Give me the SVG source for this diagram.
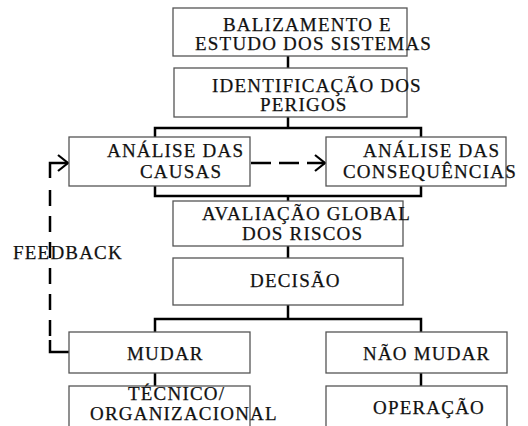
<svg xmlns="http://www.w3.org/2000/svg" width="528" height="426" viewBox="0 0 528 426">
<defs>
<style>
.box{fill:#fff;stroke:#555;stroke-width:1.3}
.t{font-family:'Liberation Serif','Times New Roman',serif;font-size:19px;letter-spacing:1.2px;fill:#111;stroke:#111;stroke-width:0.25}
.c{fill:none;stroke:#000;stroke-width:2.5}
.d{fill:none;stroke:#000;stroke-width:2.5;stroke-dasharray:20 8}
.fd{fill:none;stroke:#000;stroke-width:2.5;stroke-dasharray:16 10}
</style>
<marker id="ah" markerWidth="14" markerHeight="18" refX="11" refY="9" orient="auto" markerUnits="userSpaceOnUse">
<path d="M1,1 L11,9 L1,17" fill="none" stroke="#000" stroke-width="2.2"/>
</marker>
</defs>
<rect width="528" height="426" fill="#fff"/>
<g id="connectors">
<line class="c" x1="288" y1="56" x2="288" y2="68"/>
<line class="c" x1="288" y1="117" x2="288" y2="128"/>
<polyline class="c" points="155,137 155,128 421,128 421,137"/>
<polyline class="c" points="155,186 155,196 421,196 421,186"/>
<line class="c" x1="288" y1="196" x2="288" y2="201"/>
<line class="c" x1="288" y1="246" x2="288" y2="258"/>
<line class="c" x1="288" y1="305" x2="288" y2="319"/>
<polyline class="c" points="155,332 155,319 421,319 421,332"/>
<line class="c" x1="155" y1="373" x2="155" y2="386"/>
<line class="c" x1="421" y1="373" x2="421" y2="386"/>
<line class="d" x1="251" y1="163" x2="325" y2="163" marker-end="url(#ah)"/>
<polyline class="c" points="50,178 50,163 68,163" marker-end="url(#ah)"/>
<line class="fd" x1="50" y1="190" x2="50" y2="340"/>
<polyline class="c" points="50,340 50,352 69,352"/>
</g>
<g id="n1"><rect class="box" x="173" y="8" width="234" height="48"/>
<text class="t" x="223" y="31">BALIZAMENTO E</text><text class="t" x="195" y="50">ESTUDO DOS SISTEMAS</text></g>
<g id="n2"><rect class="box" x="174" y="68" width="233" height="49"/>
<text class="t" x="212" y="92">IDENTIFICAÇÃO DOS</text><text class="t" x="260" y="111">PERIGOS</text></g>
<g id="n3"><rect class="box" x="69" y="137" width="181" height="49"/>
<text class="t" x="107" y="157">ANÁLISE DAS</text><text class="t" x="140" y="178">CAUSAS</text></g>
<g id="n4"><rect class="box" x="326" y="137" width="180" height="49"/>
<text class="t" x="363" y="157">ANÁLISE DAS</text><text class="t" x="343" y="178">CONSEQUÊNCIAS</text></g>
<g id="n5"><rect class="box" x="173" y="201" width="230" height="45"/>
<text class="t" x="202" y="220">AVALIAÇÃO GLOBAL</text><text class="t" x="242" y="240">DOS RISCOS</text></g>
<g id="fb"><text class="t" x="13" y="259">FEEDBACK</text></g>
<g id="n6"><rect class="box" x="173" y="258" width="230" height="47"/>
<text class="t" x="250" y="287">DECISÃO</text></g>
<g id="n7"><rect class="box" x="69" y="332" width="181" height="41"/>
<text class="t" x="127" y="360">MUDAR</text></g>
<g id="n8"><rect class="box" x="326" y="332" width="181" height="41"/>
<text class="t" x="363" y="360">NÃO MUDAR</text></g>
<g id="n9"><rect class="box" x="69" y="386" width="181" height="50"/>
<text class="t" x="128" y="400">TÉCNICO/</text><text class="t" x="90" y="420">ORGANIZACIONAL</text></g>
<g id="n10"><rect class="box" x="326" y="386" width="181" height="50"/>
<text class="t" x="373" y="414">OPERAÇÃO</text></g>
</svg>
